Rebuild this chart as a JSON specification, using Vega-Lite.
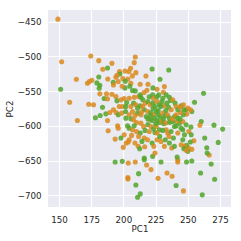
{
  "$schema": "https://vega.github.io/schema/vega-lite/v6.json",
  "autosize": {"type": "none"},
  "padding": {"left": 48, "top": 10, "right": 10, "bottom": 34},
  "width": 183,
  "height": 197,
  "background": "white",
  "config": {
    "view": {"fill": "#EAEAF2", "stroke": null},
    "font": "DejaVu Sans",
    "axis": {
      "domain": false, "ticks": false, "tickSize": 0,
      "gridColor": "white", "gridWidth": 1.1, "gridOpacity": 1,
      "labelFontSize": 8.7, "titleFontSize": 8.7, "titleFontWeight": "normal",
      "labelColor": "#262626", "titleColor": "#262626", "labelFont": "DejaVu Sans", "titleFont": "DejaVu Sans"
    }
  },
  "data": {"values": [
    {"x":149.2,"y":-446.2,"c":"O"},{"x":152.1,"y":-507.5,"c":"O"},{"x":151.3,"y":-547.2,"c":"G"},{"x":158.3,"y":-565.9,"c":"O"},
    {"x":164.3,"y":-592.2,"c":"O"},{"x":163.5,"y":-532.9,"c":"O"},{"x":174.7,"y":-499.3,"c":"O"},{"x":172.1,"y":-538.6,"c":"O"},
    {"x":173.6,"y":-536.2,"c":"O"},{"x":175.5,"y":-534.3,"c":"O"},{"x":173.1,"y":-568.8,"c":"O"},{"x":176.8,"y":-569.7,"c":"O"},
    {"x":180.9,"y":-506,"c":"O"},{"x":179.4,"y":-538.1,"c":"G"},{"x":180.9,"y":-529.5,"c":"G"},{"x":181.7,"y":-541.5,"c":"G"},
    {"x":181.2,"y":-545.8,"c":"G"},{"x":181.7,"y":-553.9,"c":"O"},{"x":185.1,"y":-560.6,"c":"G"},{"x":186.9,"y":-553.9,"c":"O"},
    {"x":187.7,"y":-561.1,"c":"O"},{"x":183.8,"y":-573.1,"c":"G"},{"x":178.3,"y":-588.4,"c":"G"},{"x":182,"y":-585.1,"c":"G"},
    {"x":186.4,"y":-582.7,"c":"G"},{"x":189.5,"y":-580.7,"c":"O"},{"x":184,"y":-518.5,"c":"O"},{"x":187.7,"y":-516.6,"c":"G"},
    {"x":187.9,"y":-532.4,"c":"O"},{"x":188.2,"y":-607.1,"c":"O"},{"x":187.7,"y":-592.2,"c":"O"},{"x":191.1,"y":-509.9,"c":"O"},
    {"x":193.6,"y":-619.1,"c":"O"},{"x":193.6,"y":-652.1,"c":"G"},{"x":199.1,"y":-651.2,"c":"G"},{"x":203.8,"y":-653.5,"c":"O"},
    {"x":199.9,"y":-631,"c":"O"},{"x":203.8,"y":-623.4,"c":"O"},{"x":203.5,"y":-674.6,"c":"O"},{"x":203.5,"y":-676.5,"c":"O"},
    {"x":209.2,"y":-652.1,"c":"O"},{"x":209.7,"y":-685.2,"c":"G"},{"x":213.1,"y":-698.1,"c":"G"},{"x":211,"y":-702.9,"c":"G"},
    {"x":211.8,"y":-668.9,"c":"G"},{"x":209,"y":-624.8,"c":"O"},{"x":211.5,"y":-629.6,"c":"O"},{"x":212.6,"y":-633,"c":"G"},
    {"x":216.5,"y":-630.1,"c":"O"},{"x":216.2,"y":-646.4,"c":"G"},{"x":216.2,"y":-648.8,"c":"G"},{"x":218,"y":-656.4,"c":"O"},
    {"x":221.4,"y":-663.1,"c":"O"},{"x":222.7,"y":-644,"c":"G"},{"x":224.5,"y":-639.2,"c":"O"},{"x":229.2,"y":-652.1,"c":"G"},
    {"x":226.9,"y":-675.6,"c":"O"},{"x":233.9,"y":-667.9,"c":"O"},{"x":237.8,"y":-672.7,"c":"O"},{"x":240.9,"y":-686.1,"c":"G"},
    {"x":246.6,"y":-693.8,"c":"O"},{"x":242.2,"y":-652.1,"c":"O"},{"x":242.2,"y":-648.8,"c":"O"},{"x":241.7,"y":-644.9,"c":"G"},
    {"x":249,"y":-652.1,"c":"G"},{"x":253.1,"y":-650.7,"c":"G"},{"x":259.9,"y":-667.9,"c":"G"},{"x":261.2,"y":-699.5,"c":"G"},
    {"x":270.8,"y":-677,"c":"G"},{"x":266.6,"y":-642,"c":"O"},{"x":265,"y":-639.2,"c":"G"},{"x":268.1,"y":-655,"c":"G"},
    {"x":264.7,"y":-631.5,"c":"G"},{"x":263.1,"y":-617.6,"c":"G"},{"x":273.6,"y":-623.9,"c":"G"},{"x":277,"y":-604.7,"c":"G"},
    {"x":270.3,"y":-599,"c":"G"},{"x":260.4,"y":-593.7,"c":"G"},{"x":259.4,"y":-599,"c":"O"},{"x":254.7,"y":-621.5,"c":"O"},
    {"x":250.5,"y":-631.5,"c":"O"},{"x":253.1,"y":-633.9,"c":"O"},{"x":250,"y":-636.8,"c":"G"},{"x":248.9,"y":-628.2,"c":"G"},
    {"x":247.4,"y":-629.6,"c":"O"},{"x":251.9,"y":-623.4,"c":"G"},{"x":252.4,"y":-601.8,"c":"G"},{"x":246.1,"y":-605.7,"c":"G"},
    {"x":244.8,"y":-603.3,"c":"G"},{"x":247.4,"y":-612.9,"c":"G"},{"x":209.2,"y":-500.8,"c":"O"},{"x":208.4,"y":-508.9,"c":"O"},
    {"x":209.7,"y":-523.3,"c":"O"},{"x":222.3,"y":-518,"c":"G"},{"x":235.2,"y":-519.4,"c":"G"},{"x":228.4,"y":-532.9,"c":"G"},
    {"x":217.5,"y":-528.1,"c":"O"},{"x":197,"y":-521.8,"c":"O"},{"x":201.2,"y":-520.9,"c":"O"},{"x":205.6,"y":-517,"c":"O"},
    {"x":204.3,"y":-521.8,"c":"O"},{"x":197.3,"y":-525.2,"c":"G"},{"x":194.2,"y":-530,"c":"O"},{"x":199.6,"y":-531.9,"c":"O"},
    {"x":203.5,"y":-532.4,"c":"O"},{"x":201.4,"y":-535.7,"c":"G"},{"x":196,"y":-536.2,"c":"O"},{"x":192.1,"y":-537.2,"c":"G"},
    {"x":192.3,"y":-541,"c":"O"},{"x":201.2,"y":-545.3,"c":"G"},{"x":205.8,"y":-538.6,"c":"O"},{"x":207.1,"y":-549.1,"c":"G"},
    {"x":209.2,"y":-549.6,"c":"G"},{"x":208.4,"y":-558.7,"c":"O"},{"x":211.8,"y":-557.8,"c":"O"},{"x":213.1,"y":-555.4,"c":"G"},
    {"x":218.3,"y":-548.7,"c":"O"},{"x":219.1,"y":-540,"c":"O"},{"x":222.7,"y":-555.4,"c":"G"},{"x":226.1,"y":-547.2,"c":"O"},
    {"x":231.8,"y":-543.4,"c":"O"},{"x":231,"y":-551.5,"c":"O"},{"x":227.4,"y":-555.4,"c":"G"},{"x":230.6,"y":-560.2,"c":"G"},
    {"x":223.2,"y":-560.2,"c":"O"},{"x":233.2,"y":-555.4,"c":"G"},{"x":235.7,"y":-558.7,"c":"G"},{"x":236.5,"y":-563.5,"c":"G"},
    {"x":238.3,"y":-562.5,"c":"O"},{"x":240.1,"y":-567.3,"c":"G"},{"x":240.9,"y":-572.1,"c":"O"},{"x":244.8,"y":-571.2,"c":"G"},
    {"x":246.6,"y":-569.7,"c":"O"},{"x":248.7,"y":-576.9,"c":"G"},{"x":250,"y":-574.5,"c":"O"},{"x":253.1,"y":-579.3,"c":"G"},
    {"x":255.2,"y":-565.9,"c":"G"},{"x":262.2,"y":-553,"c":"G"},{"x":252.1,"y":-576.9,"c":"O"},{"x":249.2,"y":-583.1,"c":"O"},
    {"x":246.4,"y":-584.1,"c":"G"},{"x":244.3,"y":-580.7,"c":"O"},{"x":242.2,"y":-576.9,"c":"G"},{"x":191.1,"y":-554.4,"c":"O"},
    {"x":194.2,"y":-557.8,"c":"O"},{"x":195,"y":-564,"c":"G"},{"x":198.1,"y":-562.5,"c":"O"},{"x":200.6,"y":-560.6,"c":"O"},
    {"x":202.5,"y":-566.4,"c":"G"},{"x":204.5,"y":-560.2,"c":"O"},{"x":196.8,"y":-572.1,"c":"O"},{"x":199.4,"y":-572.1,"c":"O"},
    {"x":201.9,"y":-572.1,"c":"G"},{"x":205.8,"y":-572.1,"c":"O"},{"x":207.9,"y":-567.3,"c":"G"},{"x":209.7,"y":-569.7,"c":"O"},
    {"x":192.3,"y":-576.9,"c":"O"},{"x":194.4,"y":-580.7,"c":"O"},{"x":196,"y":-584.1,"c":"G"},{"x":198.6,"y":-581.7,"c":"O"},
    {"x":201.7,"y":-579.3,"c":"G"},{"x":204.5,"y":-584.1,"c":"O"},{"x":207.1,"y":-579.3,"c":"O"},{"x":211,"y":-581.7,"c":"G"},
    {"x":213.6,"y":-584.1,"c":"O"},{"x":205.8,"y":-589.8,"c":"G"},{"x":207.9,"y":-591.3,"c":"O"},{"x":210.2,"y":-595.1,"c":"O"},
    {"x":201.9,"y":-588.9,"c":"G"},{"x":203.2,"y":-599.9,"c":"G"},{"x":195.5,"y":-599.9,"c":"O"},{"x":196,"y":-603.3,"c":"O"},
    {"x":204.5,"y":-603.3,"c":"G"},{"x":207.1,"y":-605.7,"c":"O"},{"x":208.4,"y":-599.9,"c":"G"},{"x":210.2,"y":-608.1,"c":"O"},
    {"x":213.1,"y":-610.4,"c":"G"},{"x":200.6,"y":-612.8,"c":"O"},{"x":206.4,"y":-613.8,"c":"O"},{"x":211.8,"y":-615.2,"c":"O"},
    {"x":204.5,"y":-620,"c":"O"},{"x":198.1,"y":-617.6,"c":"G"},{"x":202.2,"y":-624.8,"c":"O"},{"x":216.2,"y":-617.6,"c":"O"},
    {"x":218.8,"y":-620,"c":"O"},{"x":214.4,"y":-622.4,"c":"G"},{"x":222.3,"y":-624.8,"c":"G"},{"x":223.6,"y":-629.6,"c":"O"},
    {"x":226.1,"y":-620,"c":"O"},{"x":228.2,"y":-615.2,"c":"G"},{"x":229.2,"y":-622.4,"c":"O"},{"x":231.8,"y":-629.6,"c":"O"},
    {"x":232.5,"y":-620,"c":"G"},{"x":235.7,"y":-624.8,"c":"G"},{"x":237.5,"y":-632,"c":"O"},{"x":239.6,"y":-629.6,"c":"G"},
    {"x":234.4,"y":-610.4,"c":"O"},{"x":237,"y":-608.1,"c":"G"},{"x":233.2,"y":-605.7,"c":"O"},{"x":239.6,"y":-600.9,"c":"G"},
    {"x":242.2,"y":-610.4,"c":"O"},{"x":243.5,"y":-596.1,"c":"G"},{"x":241.4,"y":-593.7,"c":"O"},{"x":238.3,"y":-593.7,"c":"G"},
    {"x":215.1,"y":-562.5,"c":"G"},{"x":216.9,"y":-567.3,"c":"O"},{"x":219,"y":-564.9,"c":"G"},{"x":220.8,"y":-569.7,"c":"O"},
    {"x":222.9,"y":-567.3,"c":"G"},{"x":224.7,"y":-572.1,"c":"G"},{"x":226.1,"y":-564.9,"c":"O"},{"x":228,"y":-569.7,"c":"G"},
    {"x":229.9,"y":-564.9,"c":"G"},{"x":231.9,"y":-571.2,"c":"O"},{"x":233.8,"y":-567.3,"c":"G"},{"x":235.1,"y":-573.1,"c":"G"},
    {"x":237.1,"y":-576.9,"c":"O"},{"x":216.2,"y":-576.9,"c":"G"},{"x":218.8,"y":-579.3,"c":"O"},{"x":221.4,"y":-580.7,"c":"G"},
    {"x":223.4,"y":-584.1,"c":"O"},{"x":225.5,"y":-579.3,"c":"G"},{"x":227.1,"y":-584.1,"c":"G"},{"x":228.6,"y":-587.5,"c":"G"},
    {"x":230.5,"y":-581.7,"c":"O"},{"x":232.3,"y":-585.6,"c":"G"},{"x":234.4,"y":-584.1,"c":"O"},{"x":235.7,"y":-588.9,"c":"G"},
    {"x":217.7,"y":-586.5,"c":"G"},{"x":220.3,"y":-590.3,"c":"O"},{"x":222.1,"y":-592.2,"c":"G"},{"x":224.2,"y":-588.9,"c":"G"},
    {"x":226.1,"y":-592.2,"c":"G"},{"x":228,"y":-595.1,"c":"G"},{"x":229.9,"y":-593.7,"c":"O"},{"x":231.4,"y":-597,"c":"G"},
    {"x":233.2,"y":-595.6,"c":"O"},{"x":219,"y":-598,"c":"G"},{"x":221.4,"y":-600.9,"c":"O"},{"x":223.4,"y":-604.2,"c":"G"},
    {"x":225.5,"y":-600.9,"c":"O"},{"x":227.9,"y":-605.7,"c":"G"},{"x":230.5,"y":-606.6,"c":"G"},{"x":213.6,"y":-596.1,"c":"O"},
    {"x":215.7,"y":-600.9,"c":"O"},{"x":216.8,"y":-606.6,"c":"G"},{"x":220.1,"y":-608.1,"c":"O"},{"x":224.5,"y":-609.5,"c":"G"},
    {"x":226.1,"y":-610.4,"c":"O"},{"x":213.1,"y":-571.2,"c":"G"},{"x":214.9,"y":-572.1,"c":"O"},{"x":211,"y":-574.5,"c":"G"},
    {"x":213.6,"y":-558.7,"c":"G"},{"x":222.9,"y":-545.3,"c":"G"},{"x":239.6,"y":-586.5,"c":"G"},{"x":240.9,"y":-584.1,"c":"O"},
    {"x":242.2,"y":-588.9,"c":"G"},{"x":246.1,"y":-593.7,"c":"O"},{"x":248.7,"y":-598.5,"c":"G"},{"x":250.8,"y":-608.1,"c":"O"},
    {"x":252.6,"y":-612.9,"c":"G"},{"x":246.1,"y":-620,"c":"G"},{"x":244.8,"y":-627.2,"c":"O"},{"x":246.9,"y":-633,"c":"G"},
    {"x":249,"y":-635.4,"c":"O"},{"x":238.8,"y":-617.6,"c":"G"},{"x":235.4,"y":-615.2,"c":"O"},
    {"x":223,"y":-575,"c":"G"},{"x":227,"y":-578,"c":"G"},{"x":231,"y":-590,"c":"G"},{"x":219,"y":-590,"c":"G"},
    {"x":225,"y":-597,"c":"G"},{"x":233,"y":-578,"c":"G"},{"x":229,"y":-572,"c":"G"},{"x":221,"y":-585,"c":"G"},
    {"x":214,"y":-580,"c":"O"},{"x":209,"y":-585,"c":"O"},{"x":236,"y":-595,"c":"G"},{"x":241,"y":-600,"c":"G"},
    {"x":238,"y":-590,"c":"O"},{"x":244,"y":-590,"c":"G"},{"x":247,"y":-577,"c":"G"},{"x":244,"y":-573,"c":"O"},
    {"x":195,"y":-527,"c":"O"},{"x":199,"y":-543,"c":"O"},{"x":207,"y":-528,"c":"O"},{"x":213,"y":-540,"c":"O"},
    {"x":205,"y":-543,"c":"G"},{"x":216,"y":-552,"c":"O"},{"x":220,"y":-558,"c":"G"},{"x":226,"y":-558,"c":"G"}
  ]},
  "mark": {"type": "circle", "size": 26, "opacity": 0.85},
  "encoding": {
    "x": {"field": "x", "type": "quantitative", "title": "PC1",
          "scale": {"domain": [141.5, 283.5], "nice": false, "zero": false},
          "axis": {"values": [150, 175, 200, 225, 250, 275], "labelPadding": 8, "titlePadding": 1}},
    "y": {"field": "y", "type": "quantitative", "title": "PC2",
          "scale": {"domain": [-717, -433], "nice": false, "zero": false},
          "axis": {"values": [-450, -500, -550, -600, -650, -700], "labelPadding": 7, "titlePadding": 3}},
    "color": {"field": "c", "type": "nominal", "legend": null,
              "scale": {"domain": ["O", "G"], "range": ["#d98a1c", "#52a52a"]}}
  }
}
